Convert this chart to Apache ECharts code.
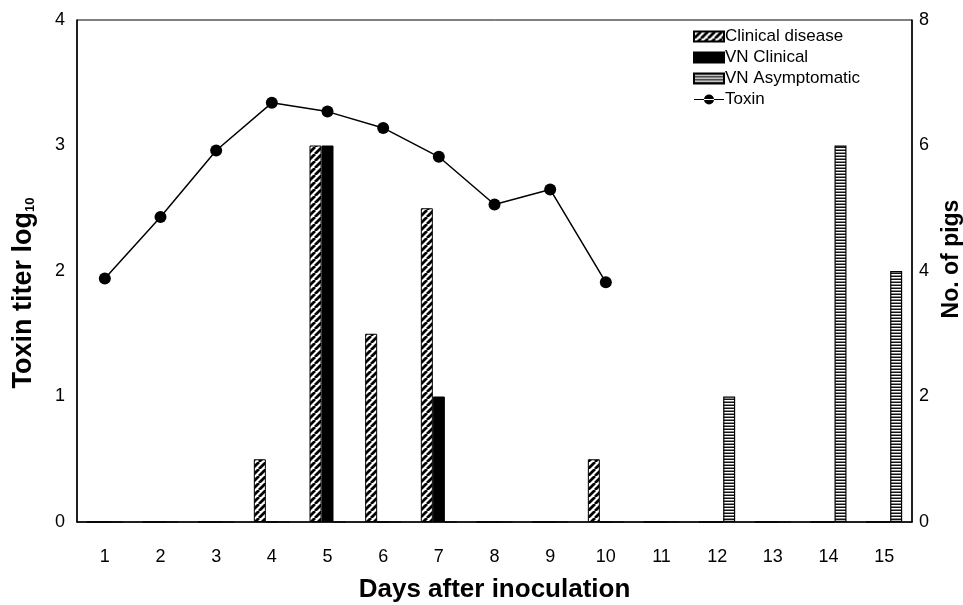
<!DOCTYPE html>
<html><head><meta charset="utf-8">
<script src="https://cdn.jsdelivr.net/npm/echarts@6/dist/echarts.min.js"></script>
<style>html,body{margin:0;padding:0;background:#fff}#c{width:963px;height:605px}</style>
</head><body><div id="c"></div>
<script>
const days = ['1','2','3','4','5','6','7','8','9','10','11','12','13','14','15'];
const toxin = [1.94, 2.43, 2.96, 3.34, 3.27, 3.14, 2.91, 2.53, 2.65, 1.91, null, null, null, null, null];
const clinicalDisease = [0, 0, 0, 1, 6, 3, 5, 0, 0, 1, 0, 0, 0, 0, 0];
const vnClinical = [0, 0, 0, 0, 6, 0, 2, 0, 0, 0, 0, 0, 0, 0, 0];
const vnAsymptomatic = [0, 0, 0, 0, 0, 0, 0, 0, 0, 0, 0, 2, 0, 6, 4];
const leftTicks = [0, 1, 2, 3, 4];
const rightTicks = [0, 2, 4, 6, 8];

function hatchPattern() {
  const s = 7, c = document.createElement('canvas');
  c.width = s; c.height = s;
  const g = c.getContext('2d');
  g.fillStyle = '#fff'; g.fillRect(0, 0, s, s);
  g.strokeStyle = '#000'; g.lineWidth = 2.8;
  g.beginPath();
  for (const o of [-s, 0, s]) { g.moveTo(o, s); g.lineTo(o + s, 0); }
  g.stroke();
  return c;
}
function hStripePattern() {
  const c = document.createElement('canvas');
  c.width = 4; c.height = 3;
  const g = c.getContext('2d');
  g.fillStyle = '#fff'; g.fillRect(0, 0, 4, 3);
  g.fillStyle = '#111'; g.fillRect(0, 0, 4, 1);
  g.fillStyle = '#888'; g.fillRect(0, 2, 4, 1);
  return c;
}

const font = 'Arial, "Liberation Sans", sans-serif';
const chart = echarts.init(document.getElementById('c'));
chart.setOption({
  animation: false,
  backgroundColor: '#fff',
  textStyle: { fontFamily: font, color: '#000' },
  legend: {
    orient: 'vertical', left: 688, top: 23,
    itemWidth: 30, itemHeight: 10, itemGap: 4, icon: 'rect',
    textStyle: { fontFamily: font, fontSize: 17, color: '#000', padding: [0, 0, 0, -4] },
    data: ['Clinical disease', 'VN Clinical', 'VN Asymptomatic',
      { name: 'Toxin', icon: 'path://M0,4.5L30,4.5L30,5.5L0,5.5Z M15,5m-5,0a5,5 0 1,0 10,0a5,5 0 1,0 -10,0' }]
  },
  grid: { left: 77, right: 51, top: 20, bottom: 83, show: true, borderColor: '#000', borderWidth: 1, outerBoundsMode: 'none', containLabel: false },
  xAxis: {
    type: 'category', data: days, boundaryGap: true,
    axisLine: { lineStyle: { color: '#000', width: 1.5 } },
    axisTick: { show: false },
    axisLabel: { fontSize: 18, color: '#000', margin: 26, fontFamily: font },
    name: 'Days after inoculation', nameLocation: 'middle', nameGap: 55,
    nameTextStyle: { fontSize: 26, fontWeight: 'bold', color: '#000', fontFamily: font }
  },
  yAxis: [{
    type: 'value', min: 0, max: 4, interval: 1,
    axisLine: { show: true, lineStyle: { color: '#000', width: 1.5 } },
    axisTick: { show: false }, splitLine: { show: false },
    axisLabel: { fontSize: 18, color: '#000', margin: 12, fontFamily: font,
      formatter: v => leftTicks.includes(v) ? String(v) : '' },
    name: 'Toxin titer log{sub|10}', nameLocation: 'middle', nameGap: 40,
    nameTextStyle: { fontSize: 27, fontWeight: 'bold', color: '#000', fontFamily: font, padding: [0, 44, 0, 0],
      rich: { sub: { fontSize: 13, fontWeight: 'bold', fontFamily: font, verticalAlign: 'bottom', padding: [12, 0, 0, 0] } } }
  }, {
    type: 'value', min: 0, max: 8, interval: 2, position: 'right',
    axisLine: { show: true, lineStyle: { color: '#000', width: 1.5 } },
    axisTick: { show: false }, splitLine: { show: false },
    axisLabel: { fontSize: 18, color: '#000', margin: 7, fontFamily: font,
      formatter: v => rightTicks.includes(v) ? String(v) : '' },
    name: 'No. of pigs', nameLocation: 'middle', nameGap: 27,
    nameTextStyle: { fontSize: 23, fontWeight: 'bold', color: '#000', fontFamily: font, padding: [0, 0, 0, 24] }
  }],
  series: [{
    name: 'Clinical disease', type: 'bar', yAxisIndex: 1, data: clinicalDisease,
    barWidth: 12, barGap: '0%',
    itemStyle: { color: { image: hatchPattern(), repeat: 'repeat' }, borderColor: '#000', borderWidth: 1 }
  }, {
    name: 'VN Clinical', type: 'bar', yAxisIndex: 1, data: vnClinical,
    barWidth: 12, barGap: '0%',
    itemStyle: { color: '#000', borderColor: '#000', borderWidth: 1 }
  }, {
    name: 'VN Asymptomatic', type: 'bar', yAxisIndex: 1, data: vnAsymptomatic,
    barWidth: 12, barGap: '0%',
    itemStyle: { color: { image: hStripePattern(), repeat: 'repeat' }, borderColor: '#000', borderWidth: 1.2 }
  }, {
    name: 'Toxin', type: 'line', yAxisIndex: 0, data: toxin,
    symbol: 'circle', symbolSize: 12, showSymbol: true,
    lineStyle: { color: '#000', width: 1.5 },
    itemStyle: { color: '#000' }, z: 5
  }]
});
</script></body></html>
